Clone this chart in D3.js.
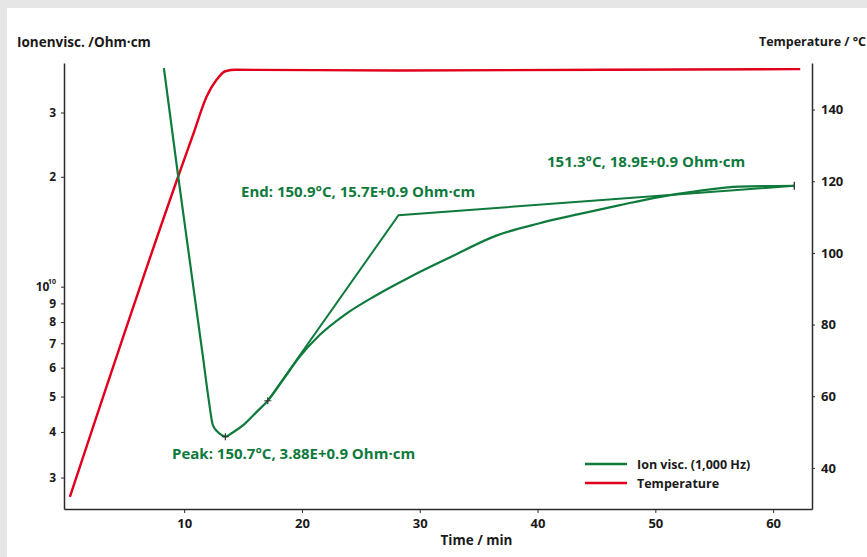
<!DOCTYPE html>
<html>
<head>
<meta charset="utf-8">
<script src="https://cdn.jsdelivr.net/npm/d3@7"></script>
<style>
  html, body { margin: 0; padding: 0; background: #e6e6e6; }
  svg { display: block; }
  text { font-family: "Open Sans", "Noto Sans", sans-serif; font-weight: 700; fill: #1a1a1a; }
</style>
</head>
<body>
<script>
// Ion viscosity (Ohm·cm) over time (min), 1,000 Hz
const ionTime  = [8.28, 9.5, 11.6, 12.09, 12.43, 12.85, 13.2, 13.5, 14.1, 15.14, 16.16, 17.1, 18.5, 19.8, 21.5, 23.6, 26.2, 29.1, 32.5, 36.5, 40.1, 43.5, 46.9, 50.3, 53.7, 57.1, 61.8];
const ionValue = [39.7e9, 20.0e9, 6.41e9, 4.89e9, 4.18e9, 4.0e9, 3.92e9, 3.88e9, 3.98e9, 4.21e9, 4.54e9, 4.87e9, 5.62e9, 6.42e9, 7.37e9, 8.36e9, 9.43e9, 10.6e9, 12.0e9, 13.8e9, 14.9e9, 15.8e9, 16.7e9, 17.6e9, 18.3e9, 18.8e9, 18.9e9];

// Straight construction segments through the evaluation points
const slopeTime  = [17.1, 28.2, 61.8];
const slopeValue = [4.87e9, 15.7e9, 18.9e9];

// Temperature (°C) over time (min)
const tempTime  = [0.3, 9.5, 10.8, 11.9, 12.75, 13.5, 14.4, 28.2, 61.8, 62.3];
const tempValue = [31.9, 121.4, 133.4, 143.6, 148.3, 150.7, 151.1, 150.9, 151.3, 151.3];

// Evaluation points
const peakPoint = { t: 13.5, v: 3.88e9, label: "Peak: 150.7°C, 3.88E+0.9 Ohm·cm" };
const onsetPoint = { t: 17.1, v: 4.87e9 };
const endPoint = { t: 28.2, v: 15.7e9, label: "End: 150.9°C, 15.7E+0.9 Ohm·cm" };
const finalPoint = { t: 61.8, v: 18.9e9, label: "151.3°C, 18.9E+0.9 Ohm·cm" };

// Tick values
const timeTicks = [10, 20, 30, 40, 50, 60];
const ionTicks = [3e9, 4e9, 5e9, 6e9, 7e9, 8e9, 9e9, 1e10, 2e10, 3e10];
const tempTicks = [40, 60, 80, 100, 120, 140];

const seriesNames = ["Ion visc. (1,000 Hz)", "Temperature"];
const GREEN = "#0e7a3c";
const RED = "#e0001b";
const AXIS = "#2b2b2b";

const W = 867, H = 557;
const svg = d3.select("body").append("svg").attr("width", W).attr("height", H);

// white panel
svg.append("rect").attr("x", 7).attr("y", 8).attr("width", W - 7).attr("height", H - 8).attr("fill", "#ffffff");

const plotLeft = 64, plotRight = 812, plotTop = 63, plotBottom = 509;

const x = d3.scaleLinear().domain([-0.2, 63.3]).range([plotLeft, plotRight]);
const yIon = d3.scaleLog().domain([2.46e9, 4.10e10]).range([plotBottom, plotTop]);
const yTemp = d3.scaleLinear().domain([28.54, 153.0]).range([plotBottom, plotTop]);

// Axes
const xAxis = d3.axisBottom(x).tickValues(timeTicks).tickSize(4).tickSizeOuter(0).tickFormat(d3.format("d"));
const gx = svg.append("g").attr("transform", `translate(0,${plotBottom})`).call(xAxis);

const yAxisL = d3.axisLeft(yIon).tickValues(ionTicks).tickSize(3).tickSizeOuter(0)
  .tickFormat(d => d === 1e10 ? "10" : String(Math.round(d / Math.pow(10, Math.floor(Math.log10(d) + 1e-9)))));
const gl = svg.append("g").attr("transform", `translate(${plotLeft},0)`).call(yAxisL);

const yAxisR = d3.axisRight(yTemp).tickValues(tempTicks).tickSize(3).tickSizeOuter(0).tickFormat(d3.format("d"));
const gr = svg.append("g").attr("transform", `translate(${plotRight},0)`).call(yAxisR);

[gx, gl, gr].forEach(g => {
  g.select(".domain").attr("stroke", AXIS).attr("stroke-width", 1.5);
  g.selectAll(".tick line").attr("stroke", AXIS).attr("stroke-width", 1);
  g.selectAll(".tick text").attr("fill", "#1a1a1a").attr("font-family", null).attr("font-size", null).style("font-size", "13px");
});
gl.selectAll(".tick text").style("font-size", "12px");
gx.selectAll(".tick text").attr("dy", "0.71em").attr("y", 10);
gl.selectAll(".tick text").attr("x", -8);
gr.selectAll(".tick text").attr("x", 9);

// superscript exponent on the decade tick
gl.selectAll(".tick").filter(d => d === 1e10).select("text")
  .append("tspan").attr("dx", -1.5).attr("dy", -7).style("font-size", "7px").text("10");

// Axis titles
svg.append("text").attr("x", 17).attr("y", 47).style("font-size", "13.5px").text("Ionenvisc. /Ohm·cm");
svg.append("text").attr("x", 866).attr("y", 46).attr("text-anchor", "end").style("font-size", "12.5px").text("Temperature / °C");
svg.append("text").attr("x", 476.5).attr("y", 545).attr("text-anchor", "middle").style("font-size", "13.5px").text("Time / min");

// Lines
const ionLine = d3.line().x((d, i) => x(ionTime[i])).y(d => yIon(d)).curve(d3.curveMonotoneX);
const slopeLine = d3.line().x((d, i) => x(slopeTime[i])).y(d => yIon(d));
const tempLine = d3.line().x((d, i) => x(tempTime[i])).y(d => yTemp(d)).curve(d3.curveMonotoneX);

svg.append("path").attr("d", tempLine(tempValue)).attr("fill", "none").attr("stroke", RED).attr("stroke-width", 2.4);
svg.append("path").attr("d", slopeLine(slopeValue)).attr("fill", "none").attr("stroke", GREEN).attr("stroke-width", 2);
svg.append("path").attr("d", ionLine(ionValue)).attr("fill", "none").attr("stroke", GREEN).attr("stroke-width", 2.2);

// Markers
function plus(p) {
  const cx = x(p.t), cy = yIon(p.v), s = 3.5;
  svg.append("path").attr("d", `M${cx - s},${cy}H${cx + s}M${cx},${cy - s}V${cy + s}`)
    .attr("stroke", "#333").attr("stroke-width", 1.2).attr("fill", "none");
}
plus(peakPoint);
plus(onsetPoint);
{
  const cx = x(finalPoint.t), cy = yIon(finalPoint.v);
  svg.append("path").attr("d", `M${cx},${cy - 4}V${cy + 4}`).attr("stroke", "#333").attr("stroke-width", 1.3);
}

// Annotations
const annColor = "#0e7a3c";
svg.append("text").attr("x", 172).attr("y", 459).style("font-size", "15px").style("fill", annColor).text(peakPoint.label);
svg.append("text").attr("x", 241).attr("y", 197).style("font-size", "15px").style("fill", annColor).text(endPoint.label);
svg.append("text").attr("x", 547).attr("y", 167).style("font-size", "15px").style("fill", annColor).text(finalPoint.label);

// Legend
const legend = svg.append("g");
[GREEN, RED].forEach((c, i) => {
  const ly = 464 + i * 19;
  legend.append("line").attr("x1", 585).attr("x2", 627).attr("y1", ly).attr("y2", ly).attr("stroke", c).attr("stroke-width", 2.5);
  legend.append("text").attr("x", 637).attr("y", ly + 4.5).style("font-size", "12.5px").text(seriesNames[i]);
});
</script>
</body>
</html>
